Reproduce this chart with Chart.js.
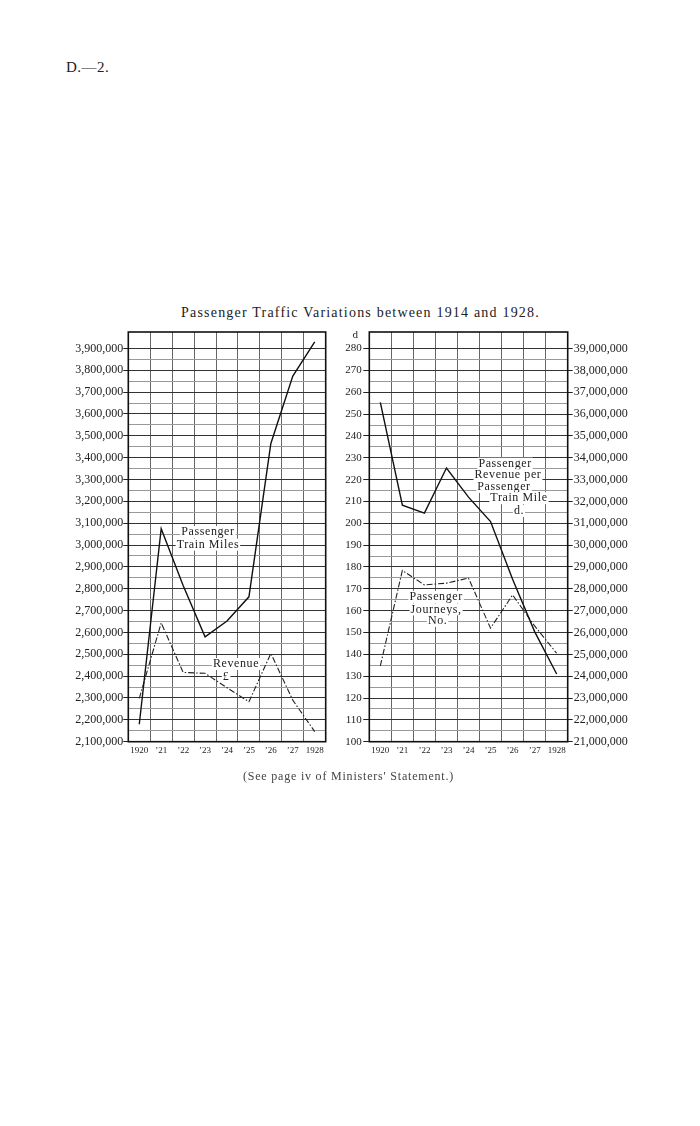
<!DOCTYPE html>
<html>
<head>
<meta charset="utf-8">
<script src="https://cdn.jsdelivr.net/npm/chart.js@4.4.1/dist/chart.umd.min.js"></script>
<style>
  body { margin:0; background:#fff; width:700px; height:1126px; position:relative;
         font-family:"Liberation Serif","DejaVu Serif",serif; color:#222; }
  .txt { position:absolute; white-space:nowrap; }
  #head { left:66px; top:59px; font-size:15px; letter-spacing:0.5px; }
  #title { left:0; width:721px; text-align:center; top:305px; font-size:14px; letter-spacing:1.2px; }
  #foot { left:0; width:697px; text-align:center; top:769px; font-size:12px; letter-spacing:0.8px; color:#444; }
  canvas { position:absolute; }
  #left { left:40px; top:320px; }
  #right { left:340px; top:320px; }
</style>
</head>
<body>
<div class="txt" id="head">D.—2.</div>
<div class="txt" id="title">Passenger Traffic Variations between 1914 and 1928.</div>
<canvas id="left" width="300" height="450"></canvas>
<canvas id="right" width="320" height="450"></canvas>
<div class="txt" id="foot">(See page iv of Ministers' Statement.)</div>
<script>
Chart.defaults.font.family = '"Liberation Serif", "DejaVu Serif", serif';
Chart.defaults.color = '#222';

// years on both panels
var years = ['1920', '\u201921', '\u201922', '\u201923', '\u201924', '\u201925', '\u201926', '\u201927', '1928'];

// left panel
var trainMiles = [2180000, 3075000, 2815000, 2580000, 2652000, 2763000, 3465000, 3773000, 3930000];
var revenue    = [2298000, 2644000, 2417000, 2413000, 2347000, 2283000, 2504000, 2290000, 2146000];

// right panel
var revPerMile = [255.4, 208.3, 204.7, 225.3, 212, 200.8, 174.4, 150.4, 131];
var journeys   = [24470000, 28840000, 28180000, 28260000, 28490000, 26200000, 27720000, 26300000, 25050000];

// tick ranges: [first, last, step of lines, step of labels]
var milesTicks   = [2100000, 3900000, 50000, 100000];
var penceTicks   = [100, 280, 5, 10];
var journeyTicks = [21000000, 39000000, 1000000, 1000000];

// labels written on the charts: text, category position, value
var leftNotes = [
    ['Passenger', 3.13, 3059500],
    ['Train Miles', 3.13, 3002000],
    ['Revenue', 4.41, 2455500],
    ['\u00a3', 3.96, 2396000]
];
var rightNotes = [
    ['Passenger', 5.66, 227.3],
    ['Revenue per', 5.79, 222.0],
    ['Passenger', 5.61, 216.7],
    ['Train Mile', 6.29, 211.5],
    ['d.', 6.29, 205.7],
    ['Passenger', 2.53, 166.3],
    ['Journeys,', 2.53, 160.6],
    ['No.', 2.60, 155.3]
];

function tickList(t) {
    var out = [];
    for (var v = t[0]; v <= t[1] + 1e-9; v += t[2]) out.push({ value: v });
    return out;
}
function isMajor(v, t) {
    var r = (v - t[0]) / t[3];
    return Math.abs(r - Math.round(r)) < 1e-6;
}

var frame = {
    id: 'frame',
    beforeDatasetsDraw: function(chart, args, opts) {
        var ctx = chart.ctx;
        var ys = chart.scales[opts.axis || 'y'];
        ctx.save();
        ctx.font = '12px "Liberation Serif"';
        ctx.letterSpacing = '0.6px';
        ctx.textAlign = 'center';
        ctx.textBaseline = 'middle';
        (opts.notes || []).forEach(function(n) {
            var x = chart.scales.x.getPixelForValue(n[1]);
            var y = ys.getPixelForValue(n[2]);
            var w = ctx.measureText(n[0]).width;
            ctx.fillStyle = '#fff';
            ctx.fillRect(x - w / 2 - 1, y - 6, w + 2, 12);
            ctx.fillStyle = '#222';
            ctx.fillText(n[0], x, y);
        });
        ctx.restore();
    },
    afterDraw: function(chart, args, opts) {
        var ctx = chart.ctx, a = chart.chartArea;
        ctx.save();
        ctx.strokeStyle = '#111';
        ctx.lineWidth = 1.6;
        ctx.strokeRect(a.left, a.top, a.right - a.left, a.bottom - a.top);
        if (opts.unit) {
            ctx.font = '11px "Liberation Serif"';
            ctx.fillStyle = '#222';
            ctx.textAlign = 'center';
            ctx.textBaseline = 'middle';
            ctx.fillText(opts.unit, chart.scales.y.right - 14, a.top + 3.5);
        }
        ctx.restore();
    }
};

var xAxis = {
    offset: true,
    grid: { offset: true, color: '#666', lineWidth: 1, drawTicks: false },
    border: { display: false },
    ticks: { font: { size: 9 }, padding: 4, maxRotation: 0, autoSkip: false },
    afterFit: function(s) { s.height = 28.3; }
};

function yAxis(t, opt) {
    return {
        position: opt.position,
        min: opt.min,
        max: opt.max,
        border: { display: false },
        ticks: {
            autoSkip: false,
            padding: opt.padding,
            font: { size: opt.size },
            callback: function(v) { return isMajor(v, t) ? v.toLocaleString('en-US') : ''; }
        },
        grid: {
            drawOnChartArea: opt.lines,
            tickLength: opt.tick,
            color: function(c) { return c.tick && isMajor(c.tick.value, t) ? '#333' : '#999'; },
            tickColor: function(c) { return c.tick && isMajor(c.tick.value, t) ? '#222' : 'rgba(0,0,0,0)'; }
        },
        afterBuildTicks: function(s) { s.ticks = tickList(t); },
        afterFit: function(s) { s.width = opt.width; }
    };
}

new Chart(document.getElementById('left'), {
    type: 'line',
    data: {
        labels: years,
        datasets: [{
            data: trainMiles,
            borderColor: '#111',
            borderWidth: 1.4,
            pointRadius: 0
        }, {
            data: revenue,
            borderColor: '#222',
            borderWidth: 1.1,
            borderDash: [6, 2, 1.5, 2],
            pointRadius: 0
        }]
    },
    options: {
        responsive: false,
        animation: false,
        layout: { padding: { left: 0, right: 14.3, top: 12, bottom: 0 } },
        plugins: {
            legend: { display: false },
            tooltip: { enabled: false },
            frame: { notes: leftNotes }
        },
        scales: {
            x: xAxis,
            y: yAxis(milesTicks, { position: 'left', min: 2100000, max: 3975000, padding: 0, size: 12, tick: 5, lines: true, width: 88.3 })
        }
    },
    plugins: [frame]
});

new Chart(document.getElementById('right'), {
    type: 'line',
    data: {
        labels: years,
        datasets: [{
            data: revPerMile,
            yAxisID: 'y',
            borderColor: '#111',
            borderWidth: 1.4,
            pointRadius: 0
        }, {
            data: journeys,
            yAxisID: 'y2',
            borderColor: '#222',
            borderWidth: 1.1,
            borderDash: [6, 2, 1.5, 2],
            pointRadius: 0
        }]
    },
    options: {
        responsive: false,
        animation: false,
        layout: { padding: { left: 0, right: 0, top: 12, bottom: 0 } },
        plugins: {
            legend: { display: false },
            tooltip: { enabled: false },
            frame: { notes: rightNotes, axis: 'y', unit: 'd' }
        },
        scales: {
            x: xAxis,
            y: yAxis(penceTicks, { position: 'left', min: 100, max: 287.6, padding: 1.5, size: 11, tick: 6, lines: true, width: 29.3 }),
            y2: yAxis(journeyTicks, { position: 'right', min: 21000000, max: 39760000, padding: 1, size: 12, tick: 5, lines: false, width: 92.3 })
        }
    },
    plugins: [frame]
});
</script>
</body>
</html>
